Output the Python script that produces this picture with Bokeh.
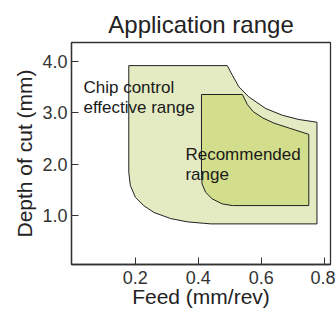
from bokeh.plotting import figure
from bokeh.models import FixedTicker, Range1d
from bokeh.core.properties import value
from bokeh.embed import file_html
from bokeh.resources import INLINE

# ---- data ----
feed_ticks = [0.2, 0.4, 0.6, 0.8]
feed_tick_labels = ["0.2", "0.4", "0.6", "0.8"]
doc_ticks = [1.0, 2.0, 3.0, 4.0]
doc_tick_labels = ["1.0", "2.0", "3.0", "4.0"]

# chip control effective range (outline, clockwise from top-left)
outer_feed = [0.179, 0.492, 0.508, 0.529, 0.560, 0.614, 0.667, 0.720, 0.777,
              0.777, 0.440, 0.417, 0.365, 0.312, 0.259, 0.227, 0.200, 0.184, 0.179]
outer_doc = [3.920, 3.920, 3.733, 3.507, 3.312, 3.084, 2.953, 2.869, 2.817,
             0.836, 0.836, 0.848, 0.876, 0.940, 1.058, 1.190, 1.355, 1.583, 1.842]

# recommended range
inner_feed = [0.410, 0.540, 0.556, 0.575, 0.605, 0.640, 0.690, 0.751,
              0.751, 0.508, 0.476, 0.444, 0.423, 0.412, 0.410]
inner_doc = [3.357, 3.357, 3.160, 3.020, 2.900, 2.800, 2.700, 2.580,
             1.193, 1.193, 1.226, 1.324, 1.452, 1.616, 1.778]

label_texts = ["Chip control", "effective range", "Recommended", "range"]
label_feed = [0.035, 0.035, 0.359, 0.359]
label_doc = [3.488, 3.094, 2.188, 1.799]

FONT = "Liberation Sans"

p = figure(width=335, height=316, output_backend="svg", toolbar_location=None,
           x_range=Range1d(-0.003, 0.820), y_range=Range1d(0.045, 4.37),
           title="Application range",
           min_border_left=71, min_border_right=5, min_border_top=42,
           min_border_bottom=52)

p.title.text_font = FONT
p.title.text_font_size = "24px"
p.title.text_font_style = "normal"
p.title.text_color = "#222222"
p.title.align = "center"
p.title.offset = 3

p.patch(outer_feed, outer_doc, fill_color="#e4ebc3", line_color="#222222", line_width=1)
p.patch(inner_feed, inner_doc, fill_color="#d3de8c", line_color="#222222", line_width=1)

p.text(x=label_feed, y=label_doc, text=label_texts, text_font=value(FONT),
       text_font_size="17px", text_color="#1a1a1a", text_align="left",
       text_baseline="alphabetic")

p.xgrid.visible = False
p.ygrid.visible = False
p.outline_line_color = "#333333"
p.outline_line_width = 1.3

p.xaxis.ticker = FixedTicker(ticks=feed_ticks)
p.xaxis.major_label_overrides = dict(zip(feed_ticks, feed_tick_labels))
p.yaxis.ticker = FixedTicker(ticks=doc_ticks)
p.yaxis.major_label_overrides = dict(zip(doc_ticks, doc_tick_labels))

for ax in (p.xaxis, p.yaxis):
    ax.major_tick_in = 7
    ax.major_tick_out = 0
    ax.minor_tick_line_color = None
    ax.major_tick_line_color = "#333333"
    ax.axis_line_color = "#333333"
    ax.axis_line_width = 1.3
    ax.major_label_text_font = FONT
    ax.major_label_text_font_size = "18px"
    ax.major_label_text_color = "#333333"
    ax.axis_label_text_font = FONT
    ax.axis_label_text_font_size = "21px"
    ax.axis_label_text_font_style = "normal"
    ax.axis_label_text_color = "#222222"

p.xaxis.axis_label = "Feed (mm/rev)"
p.yaxis.axis_label = "Depth of cut (mm)"
p.xaxis.major_label_standoff = 6
p.xaxis.axis_label_standoff = -2
p.yaxis.major_label_standoff = 4
p.yaxis.axis_label_standoff = 3

open("out.html", "w").write(file_html(p, INLINE))
